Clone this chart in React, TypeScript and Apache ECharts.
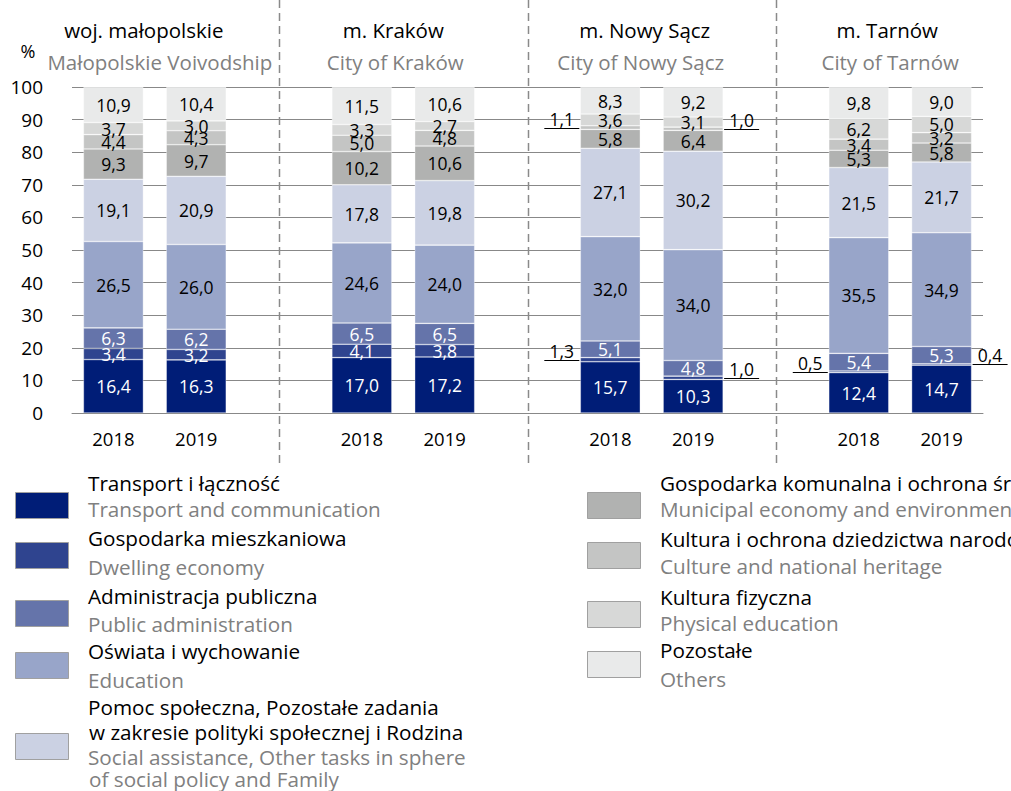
import React, { useEffect, useRef } from 'react';
import * as echarts from 'echarts';

const FONT = '"Open Sans", sans-serif';

// x slots: 2 bars per region, a gap slot between regions
const categories = ['2018', '2019', '', '2018', '2019', '', '2018', '2019', '', '2018', '2019'];
const barSlots = [0, 1, 3, 4, 6, 7, 9, 10];
const gapSlots = [2, 5, 8];

const regionsPL = ['woj. małopolskie', 'm. Kraków', 'm. Nowy Sącz', 'm. Tarnów'];
const regionsEN = ['Małopolskie Voivodship', 'City of Kraków', 'City of Nowy Sącz', 'City of Tarnów'];

// bars: Małopolskie 2018, 2019, Kraków 2018, 2019, Nowy Sącz 2018, 2019, Tarnów 2018, 2019
const transport = [16.4, 16.3, 17.0, 17.2, 15.7, 10.3, 12.4, 14.7];
const dwelling = [3.4, 3.2, 4.1, 3.8, 1.3, 1.0, 0.5, 0.4];
const publicAdmin = [6.3, 6.2, 6.5, 6.5, 5.1, 4.8, 5.4, 5.3];
const education = [26.5, 26.0, 24.6, 24.0, 32.0, 34.0, 35.5, 34.9];
const social = [19.1, 20.9, 17.8, 19.8, 27.1, 30.2, 21.5, 21.7];
const municipal = [9.3, 9.7, 10.2, 10.6, 5.8, 6.4, 5.3, 5.8];
const culture = [4.4, 4.3, 5.0, 4.8, 1.1, 1.0, 3.4, 3.2];
const physical = [3.7, 3.0, 3.3, 2.7, 3.6, 3.1, 6.2, 5.0];
const others = [10.9, 10.4, 11.5, 10.6, 8.3, 9.2, 9.8, 9.0];

const seriesPL = [
  ['Transport i łączność'],
  ['Gospodarka mieszkaniowa'],
  ['Administracja publiczna'],
  ['Oświata i wychowanie'],
  ['Pomoc społeczna, Pozostałe zadania', 'w zakresie polityki społecznej i Rodzina'],
  ['Gospodarka komunalna i ochrona środowiska'],
  ['Kultura i ochrona dziedzictwa narodowego'],
  ['Kultura fizyczna'],
  ['Pozostałe'],
];
const seriesEN = [
  ['Transport and communication'],
  ['Dwelling economy'],
  ['Public administration'],
  ['Education'],
  ['Social assistance, Other tasks in sphere', 'of social policy and Family'],
  ['Municipal economy and environmental protection'],
  ['Culture and national heritage'],
  ['Physical education'],
  ['Others'],
];
const colors = ['#001d77', '#2f448f', '#6574aa', '#98a5c9', '#cbd1e3', '#b1b2b1', '#c4c5c4', '#d7d8d7', '#e9eaea'];

const OUTSIDE_LIMIT = 1.5;

// header x-offsets from the centre of each pair of bars (pixels)
const titleShift = [-11, -10, -7, -13];
const subtitleShift = [5, -8, -11, -10];

// legend layout (pixels)
const legendLayout = [
  { sx: 15, sy: 492, tx: 88, pl: [483], en: [509] },
  { sx: 15, sy: 542, tx: 88, pl: [538], en: [567] },
  { sx: 15, sy: 600, tx: 88, pl: [596], en: [624] },
  { sx: 15, sy: 652, tx: 88, pl: [651], en: [680] },
  { sx: 15, sy: 733, tx: 88, pl: [707, 732], en: [757, 779] },
  { sx: 587, sy: 492, tx: 660, pl: [483], en: [509] },
  { sx: 587, sy: 542, tx: 660, pl: [539], en: [566] },
  { sx: 587, sy: 601, tx: 660, pl: [597], en: [623] },
  { sx: 587, sy: 651, tx: 660, pl: [650], en: [679] },
];

export default function App() {
  const ref = useRef<HTMLDivElement>(null);
  useEffect(() => {
    const chart = echarts.init(ref.current!, null, { renderer: 'svg' });
    const seriesData = [transport, dwelling, publicAdmin, education, social, municipal, culture, physical, others];
    const fmt = (v: number) => v.toFixed(1).replace('.', ',');
    const toSlots = (arr: number[]) => {
      const out: any[] = categories.map(() => '-');
      barSlots.forEach((s, i) => (out[s] = arr[i]));
      return out;
    };
    const series = seriesData.map((arr, si) => ({
      name: seriesPL[si].join(' '),
      type: 'bar',
      stack: 'total',
      barWidth: 60,
      data: toSlots(arr),
      itemStyle: { color: colors[si], borderColor: 'rgba(255,255,255,0.6)', borderWidth: 0.6 },
      label: {
        show: true,
        position: 'inside',
        color: si < 3 ? '#ffffff' : '#000000',
        fontFamily: FONT,
        fontSize: 17.5,
        formatter: (p: any) => (typeof p.value === 'number' && p.value >= OUTSIDE_LIMIT ? fmt(p.value) : ''),
      },
    }));

    chart.setOption({
      animation: false,
      grid: { left: 72, right: 28, top: 87, bottom: 378 },
      xAxis: {
        type: 'category',
        data: categories,
        axisLine: { lineStyle: { color: '#888888', width: 1 } },
        axisTick: { show: false },
        axisLabel: { color: '#000', fontFamily: FONT, fontSize: 18.5, margin: 16 },
      },
      yAxis: {
        type: 'value',
        min: 0,
        max: 100,
        interval: 10,
        axisLine: { show: false },
        axisTick: { show: false },
        splitLine: { lineStyle: { color: '#888888', width: 1 } },
        axisLabel: { color: '#000', fontFamily: FONT, fontSize: 19, margin: 29 },
      },
      series,
    });

    const px = (slot: number, v: number) => chart.convertToPixel({ gridIndex: 0 }, [slot, v]) as number[];
    const graphic: any[] = [];

    graphic.push({
      type: 'text',
      style: { text: '%', x: 28, y: 51, fill: '#000', font: `18px ${FONT}`, textAlign: 'center', textVerticalAlign: 'middle' },
    });

    gapSlots.forEach((s) => {
      const x = Math.round(px(s, 0)[0]) + 0.5;
      graphic.push({
        type: 'line',
        shape: { x1: x, y1: 0, x2: x, y2: 466 },
        style: { stroke: '#8a8a8a', lineWidth: 1.5, lineDash: [8, 5] },
      });
    });

    regionsPL.forEach((name, r) => {
      const cx = (px(barSlots[2 * r], 0)[0] + px(barSlots[2 * r + 1], 0)[0]) / 2;
      graphic.push({
        type: 'text',
        style: { text: name, x: cx + titleShift[r], y: 30, fill: '#000', font: `20.5px ${FONT}`, textAlign: 'center', textVerticalAlign: 'middle' },
      });
      graphic.push({
        type: 'text',
        style: { text: regionsEN[r], x: cx + subtitleShift[r], y: 62, fill: '#808080', font: `20.5px ${FONT}`, textAlign: 'center', textVerticalAlign: 'middle' },
      });
    });

    // outside labels with leader lines for small segments
    seriesData.forEach((arr, si) => {
      arr.forEach((v, i) => {
        if (v >= OUTSIDE_LIMIT) return;
        let below = 0;
        for (let k = 0; k < si; k++) below += seriesData[k][i];
        const p = px(barSlots[i], below + v / 2);
        const side = i % 2 === 0 ? -1 : 1;
        const y = Math.round(p[1]) + 0.5;
        const x0 = p[0] + side * 31;
        const x1 = p[0] + side * 66;
        graphic.push({
          type: 'line',
          shape: { x1: x0, y1: y, x2: x1, y2: y },
          style: { stroke: '#000', lineWidth: 1 },
        });
        graphic.push({
          type: 'text',
          style: { text: fmt(v), x: (x0 + x1) / 2, y: y - 1, fill: '#000', font: `17.5px ${FONT}`, textAlign: 'center', textVerticalAlign: 'bottom' },
        });
      });
    });

    // legend
    legendLayout.forEach((L, si) => {
      graphic.push({
        type: 'rect',
        shape: { x: L.sx + 0.5, y: L.sy + 0.5, width: 53, height: 26 },
        style: { fill: colors[si], stroke: '#a0a0a0', lineWidth: 1 },
      });
      seriesPL[si].forEach((t, k) => {
        graphic.push({
          type: 'text',
          style: { text: t, x: L.tx + (k > 0 ? 1 : 0), y: L.pl[k], fill: '#000', font: `20.7px ${FONT}`, textAlign: 'left', textVerticalAlign: 'middle' },
        });
      });
      seriesEN[si].forEach((t, k) => {
        graphic.push({
          type: 'text',
          style: { text: t, x: L.tx + (k > 0 ? 1 : 0), y: L.en[k], fill: '#808080', font: `20.7px ${FONT}`, textAlign: 'left', textVerticalAlign: 'middle' },
        });
      });
    });

    chart.setOption({ graphic });

    return () => chart.dispose();
  }, []);

  return <div ref={ref} style={{ position: 'absolute', left: 0, top: 0, width: 1011, height: 791 }} />;
}
